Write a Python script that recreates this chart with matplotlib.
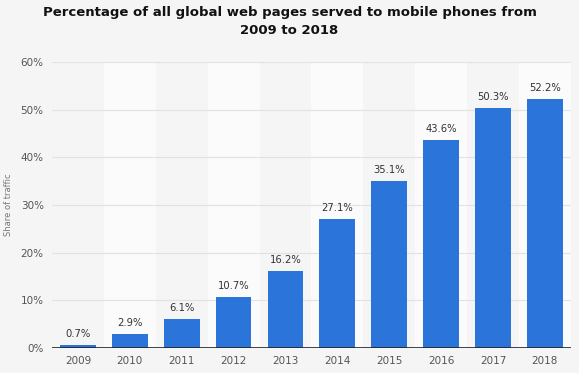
import numpy as np
import matplotlib.pyplot as plt

years = ['2009', '2010', '2011', '2012', '2013', '2014', '2015', '2016', '2017', '2018']
share = [0.7, 2.9, 6.1, 10.7, 16.2, 27.1, 35.1, 43.6, 50.3, 52.2]
yticks = [0, 10, 20, 30, 40, 50, 60]

fig = plt.figure(figsize=(5.79, 3.73), dpi=100, facecolor='#f5f5f5')
ax = fig.add_axes([0.0898, 0.067, 0.896, 0.767])
ax.set_facecolor('#f5f5f5')

x = np.arange(len(years))
# alternating column shading
for i in x:
    if i % 2 == 1:
        ax.axvspan(i - 0.5, i + 0.5, color='#fbfbfb', zorder=0, lw=0)

for t in yticks[1:]:
    ax.axhline(t, color='#e2e2e2', lw=0.8, zorder=1)

bars = ax.bar(x, share, width=0.69, color='#2a74da', zorder=2)
for xi, v in zip(x, share):
    ax.text(xi, v + 1.2, f'{v}%', ha='center', va='bottom', fontsize=7.2, color='#333333')

ax.axhline(0, color='#222222', lw=1.2, zorder=3)

ax.set_xlim(-0.5, 9.5)
ax.set_ylim(0, 60)
ax.set_xticks(x)
ax.set_xticklabels(years, fontsize=7.5, color='#555555')
ax.set_yticks(yticks)
ax.set_yticklabels([f'{t}%' for t in yticks], fontsize=7.5, color='#555555')
ax.tick_params(length=0, pad=6)
for s in ax.spines.values():
    s.set_visible(False)

fig.text(0.014, 0.45, 'Share of traffic', rotation=90, fontsize=6, color='#777777',
         ha='center', va='center')
fig.text(0.5, 0.985, 'Percentage of all global web pages served to mobile phones from\n2009 to 2018',
         ha='center', va='top', fontsize=9.5, fontweight='bold', color='#111111', linespacing=1.5)

fig.savefig('out.png', dpi=100, facecolor=fig.get_facecolor())
